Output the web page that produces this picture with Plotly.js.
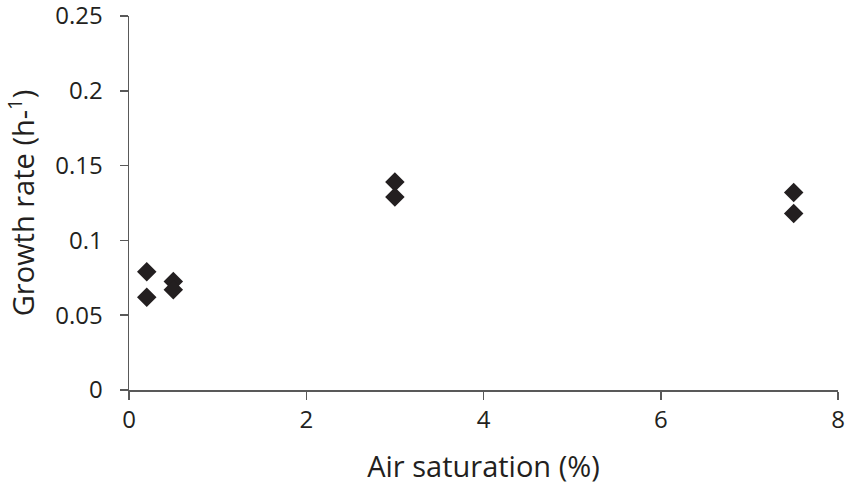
<!DOCTYPE html>
<html><head><meta charset="utf-8">
<script src="https://cdn.plot.ly/plotly-3.0.1.min.js"></script>
<style>html,body{margin:0;padding:0;background:#fff;}#chart{width:851px;height:500px;}</style>
</head><body><div id="chart"></div>
<script>
const airSaturation = [0.2, 0.2, 0.5, 0.5, 3, 3, 7.5, 7.5];
const growthRate = [0.079, 0.062, 0.0725, 0.067, 0.139, 0.129, 0.132, 0.118];
const xTicks = [0, 2, 4, 6, 8];
const yTicks = [0, 0.05, 0.1, 0.15, 0.2, 0.25];
const yTickLabels = ['0', '0.05', '0.1', '0.15', '0.2', '0.25'];

const font = 'Open Sans, Liberation Sans, sans-serif';
Plotly.newPlot('chart', [{
  x: airSaturation, y: growthRate, type: 'scatter', mode: 'markers',
  marker: {symbol: 'diamond', size: 15, color: '#231f20'}
}], {
  width: 851, height: 500,
  margin: {l: 129, r: 13, t: 16, b: 110},
  paper_bgcolor: '#fff', plot_bgcolor: '#fff',
  showlegend: false,
  font: {family: font, color: '#231f20'},
  xaxis: {
    range: [0, 8], tickvals: xTicks, ticktext: xTicks.map(String),
    showgrid: false, zeroline: false, showline: true, linecolor: '#595959', linewidth: 1.5,
    ticks: 'outside', ticklen: 8, tickcolor: '#595959', tickwidth: 1.5,
    ticklabelstandoff: 0, ticklabeloverflow: 'allow',
    tickfont: {size: 24, family: font, color: '#231f20'},
    title: {text: 'Air saturation (%)', font: {size: 29, family: font, color: '#231f20'}, standoff: 22}
  },
  yaxis: {
    range: [0, 0.25], tickvals: yTicks, ticktext: yTickLabels,
    showgrid: false, zeroline: false, showline: true, linecolor: '#595959', linewidth: 1.5,
    ticks: 'outside', ticklen: 8, tickcolor: '#595959', tickwidth: 1.5,
    ticklabelstandoff: 12, ticklabeloverflow: 'allow',
    tickfont: {size: 24, family: font, color: '#231f20'},
    title: {text: 'Growth rate (h-<sup>1</sup>)', font: {size: 29, family: font, color: '#231f20'}, standoff: 14}
  }
}, {displayModeBar: false, staticPlot: true});
</script></body></html>
